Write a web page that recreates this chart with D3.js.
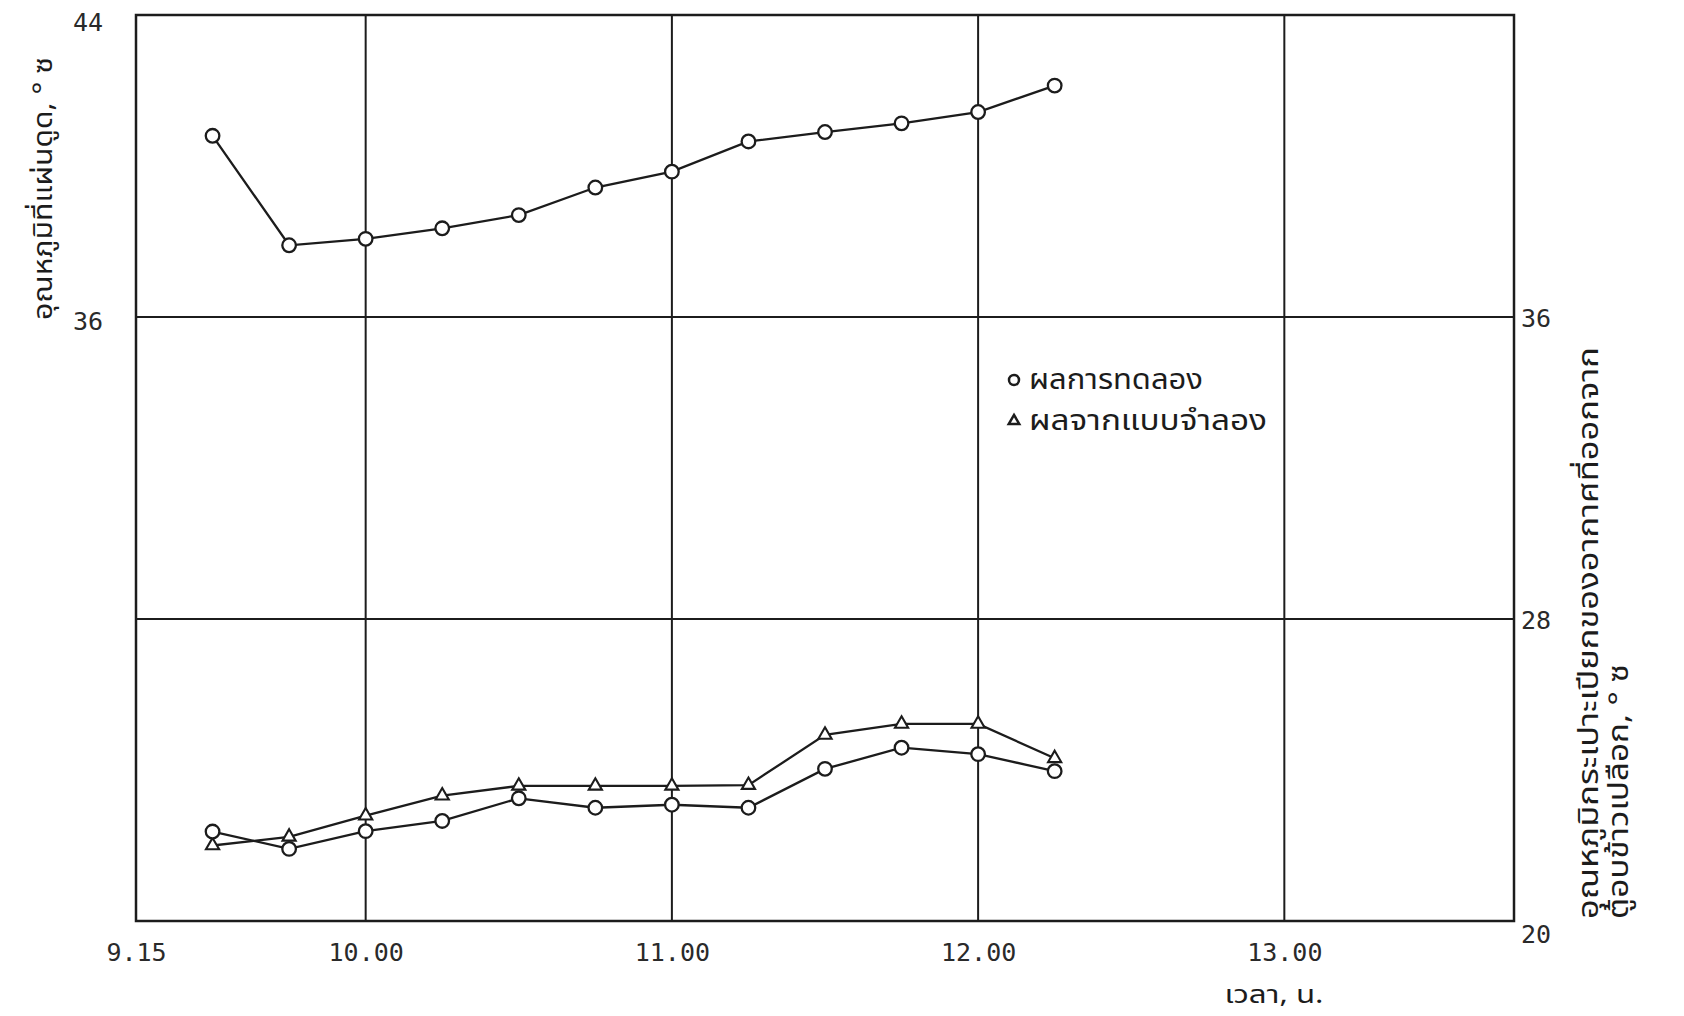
<!DOCTYPE html>
<html>
<head>
<meta charset="utf-8">
<script src="https://cdn.jsdelivr.net/npm/d3@7"></script>
<style>
  html, body { margin: 0; padding: 0; background: #fff; }
  svg { display: block; }
</style>
</head>
<body>
<svg id="chart" width="1684" height="1016"></svg>
<script>
// time of day as decimal hours (9.5 = 9.30 น.)
const times = [9.5, 9.75, 10, 10.25, 10.5, 10.75, 11, 11.25, 11.5, 11.75, 12, 12.25];

// absorber plate temperature, left axis
const plateTemp = [40.8, 37.9, 38.07, 38.35, 38.7, 39.43, 39.85, 40.65, 40.9, 41.13, 41.43, 42.13];

// wet-bulb temperature of air leaving the dryer, right axis
const wetBulbExperiment = [22.37, 21.91, 22.38, 22.65, 23.25, 23.0, 23.08, 23.0, 24.03, 24.59, 24.42, 23.97];
const wetBulbModel = [22.0, 22.23, 22.79, 23.32, 23.58, 23.58, 23.58, 23.6, 24.93, 25.22, 25.22, 24.31];

const xTickValues = [9.25, 10, 11, 12, 13];
const xTickLabels = ["9.15", "10.00", "11.00", "12.00", "13.00"];
const leftTickValues = [36, 44];
const rightTickValues = [20, 28, 36];
const gridX = [10, 11, 12, 13];
const gridY = [28, 36];

const legendLabels = ["ผลการทดลอง", "ผลจากแบบจำลอง"];

const INK = "#1c1c1c";
const THAI_FONT = "'Noto Sans Thai', 'Noto Sans', 'DejaVu Sans', sans-serif";
const NUM_FONT = "'DejaVu Sans Mono', monospace";

const frame = { left: 136, right: 1514, top: 15, bottom: 921 };

const svg = d3.select("#chart");

const x = d3.scaleLinear().domain([9.25, 13.75]).range([frame.left, frame.right]);
const yLeft = d3.scaleLinear().domain([20, 44]).range([frame.bottom, frame.top]);
const yRight = d3.scaleLinear().domain([20, 44]).range([frame.bottom, frame.top]);

// grid
const grid = svg.append("g").attr("class", "grid");
grid.selectAll("line.vx")
  .data(gridX)
  .enter()
  .append("line")
  .attr("x1", (d) => x(d))
  .attr("x2", (d) => x(d))
  .attr("y1", frame.top)
  .attr("y2", frame.bottom)
  .attr("stroke", INK)
  .attr("stroke-width", 2);
grid.selectAll("line.hy")
  .data(gridY)
  .enter()
  .append("line")
  .attr("x1", frame.left)
  .attr("x2", frame.right)
  .attr("y1", (d) => yLeft(d))
  .attr("y2", (d) => yLeft(d))
  .attr("stroke", INK)
  .attr("stroke-width", 2);

svg.append("rect")
  .attr("x", frame.left)
  .attr("y", frame.top)
  .attr("width", frame.right - frame.left)
  .attr("height", frame.bottom - frame.top)
  .attr("fill", "none")
  .attr("stroke", INK)
  .attr("stroke-width", 2.5);

// axes
const xAxis = svg.append("g")
  .attr("transform", `translate(0,${frame.bottom})`)
  .call(
    d3.axisBottom(x)
      .tickValues(xTickValues)
      .tickFormat((d, i) => xTickLabels[i])
      .tickSize(0)
      .tickPadding(22)
  );
styleAxis(xAxis);

const leftAxis = svg.append("g")
  .attr("transform", `translate(${frame.left},0)`)
  .call(d3.axisLeft(yLeft).tickValues(leftTickValues).tickFormat(d3.format("d")).tickSize(0).tickPadding(33));
styleAxis(leftAxis);
leftAxis.selectAll("text").attr("dy", (d) => (d === 44 ? "0.62em" : "0.5em"));

const rightAxis = svg.append("g")
  .attr("transform", `translate(${frame.right},0)`)
  .call(d3.axisRight(yRight).tickValues(rightTickValues).tickFormat(d3.format("d")).tickSize(0).tickPadding(7));
styleAxis(rightAxis);
rightAxis.selectAll("text").attr("dy", (d) => (d === 20 ? "0.85em" : "0.36em"));

// series
const plateData = times.map((t, i) => ({ t, v: plateTemp[i] }));
const expData = times.map((t, i) => ({ t, v: wetBulbExperiment[i] }));
const modelData = times.map((t, i) => ({ t, v: wetBulbModel[i] }));

drawLine(plateData, yLeft);
drawLine(modelData, yRight);
drawLine(expData, yRight);

drawTriangles(modelData, yRight);
drawCircles(plateData, yLeft);
drawCircles(expData, yRight);

// legend
const legendRows = [380, 421];
const legend = svg.append("g").attr("transform", "translate(1014,0)");
legend.append("circle")
  .attr("cx", 0)
  .attr("cy", legendRows[0])
  .attr("r", 5)
  .attr("fill", "#fff")
  .attr("stroke", INK)
  .attr("stroke-width", 2.5);
legend.append("path")
  .attr("d", d3.symbol().type(d3.symbolTriangle).size(48)())
  .attr("transform", `translate(0,${legendRows[1]})`)
  .attr("fill", "#fff")
  .attr("stroke", INK)
  .attr("stroke-width", 2.5);
legend.selectAll("text")
  .data(legendLabels)
  .enter()
  .append("text")
  .attr("x", 15)
  .attr("y", (d, i) => legendRows[i] + 9)
  .attr("font-family", THAI_FONT)
  .attr("font-size", 28)
  .attr("fill", INK)
  .attr("textLength", (d, i) => [174, 238][i])
  .attr("lengthAdjust", "spacingAndGlyphs")
  .text((d) => d);

// axis titles
thaiTitle("อุณหภูมิที่แผ่นดูด, ° ซ", 52, 320, 263, 27);
thaiTitle("อุณหภูมิกระเปาะเปียกของอากาศที่ออกจาก", 1598, 919, 572, 28);
thaiTitle("ตู้อบข้าวเปลือก, ° ซ", 1628, 919, 255, 28);

svg.append("text")
  .attr("x", 1274)
  .attr("y", 1003)
  .attr("text-anchor", "middle")
  .attr("font-family", THAI_FONT)
  .attr("font-size", 25)
  .attr("fill", INK)
  .attr("textLength", 99)
  .attr("lengthAdjust", "spacingAndGlyphs")
  .text("เวลา, น.");

function thaiTitle(label, px, py, length, size) {
  svg.append("text")
    .attr("transform", `translate(${px},${py}) rotate(-90)`)
    .attr("font-family", THAI_FONT)
    .attr("font-size", size)
    .attr("fill", INK)
    .attr("textLength", length)
    .attr("lengthAdjust", "spacingAndGlyphs")
    .text(label);
}

function styleAxis(g) {
  g.select(".domain").remove();
  g.selectAll("text")
    .attr("font-family", NUM_FONT)
    .attr("font-size", 25)
    .attr("fill", "#2a2a2a");
}

function drawLine(data, yScale) {
  const line = d3.line()
    .x((d) => x(d.t))
    .y((d) => yScale(d.v));
  svg.append("path")
    .datum(data)
    .attr("d", line)
    .attr("fill", "none")
    .attr("stroke", INK)
    .attr("stroke-width", 2.3);
}

function drawCircles(data, yScale) {
  svg.append("g")
    .selectAll("circle")
    .data(data)
    .enter()
    .append("circle")
    .attr("cx", (d) => x(d.t))
    .attr("cy", (d) => yScale(d.v))
    .attr("r", 6.8)
    .attr("fill", "#fff")
    .attr("stroke", INK)
    .attr("stroke-width", 2.3);
}

function drawTriangles(data, yScale) {
  const symbol = d3.symbol().type(d3.symbolTriangle).size(75);
  svg.append("g")
    .selectAll("path")
    .data(data)
    .enter()
    .append("path")
    .attr("d", symbol())
    .attr("transform", (d) => `translate(${x(d.t)},${yScale(d.v)})`)
    .attr("fill", "#fff")
    .attr("stroke", INK)
    .attr("stroke-width", 2.1);
}
</script>
</body>
</html>
